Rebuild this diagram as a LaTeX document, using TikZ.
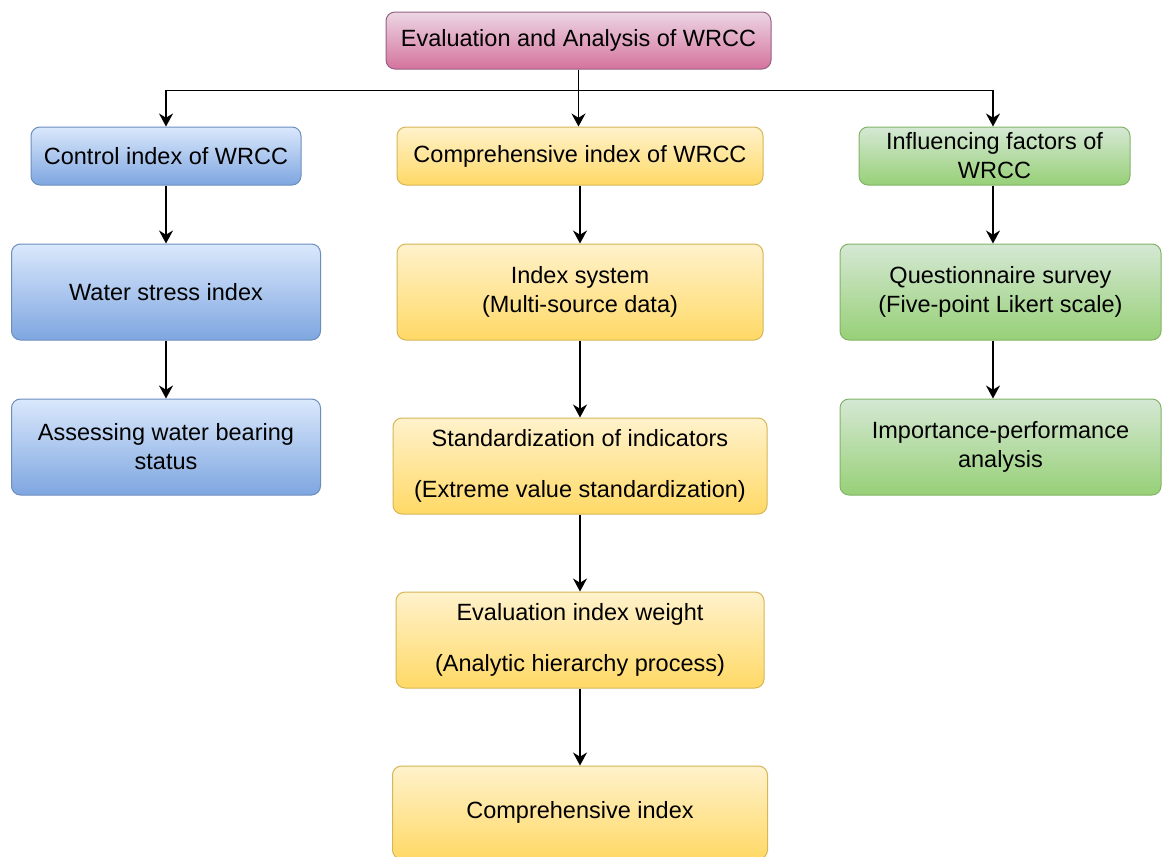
\documentclass[tikz,border=0pt]{standalone}
\usepackage{fontspec}
\setmainfont{Liberation Sans}
\definecolor{wpinktop}{RGB}{236,214,228}
\definecolor{wpinkbot}{RGB}{213,115,157}
\definecolor{wpinkline}{RGB}{150,97,133}
\definecolor{wbluetop}{RGB}{218,232,252}
\definecolor{wbluebot}{RGB}{126,166,224}
\definecolor{wblueline}{RGB}{108,142,191}
\definecolor{wyeltop}{RGB}{255,242,204}
\definecolor{wyelbot}{RGB}{255,217,102}
\definecolor{wyelline}{RGB}{214,182,86}
\definecolor{wgrntop}{RGB}{213,232,212}
\definecolor{wgrnbot}{RGB}{151,208,119}
\definecolor{wgrnline}{RGB}{130,179,102}
\usetikzlibrary{arrows.meta,positioning}

\begin{document}
\begin{tikzpicture}[x=1pt, y=1pt,
  box/.style={draw, line width=1pt, rounded corners=9pt, align=center, inner sep=4pt, font=\fontsize{23.5}{29}\selectfont},
  pinkbox/.style={box, draw=wpinkline, top color=wpinktop, bottom color=wpinkbot},
  bluebox/.style={box, draw=wblueline, top color=wbluetop, bottom color=wbluebot},
  yelbox/.style={box, draw=wyelline, top color=wyeltop, bottom color=wyelbot},
  grnbox/.style={box, draw=wgrnline, top color=wgrntop, bottom color=wgrnbot},
  headbox/.style={minimum height=58pt},
  bigbox/.style={minimum height=96pt},
  flow/.style={-{Stealth[length=13pt, width=14pt]}, line width=1.6pt, black}]
  \fill[white] (0,0) rectangle (1163,-857);
  \useasboundingbox (0,0) rectangle (1163,-857);
  % top
  \node[pinkbox, minimum width=385pt, minimum height=57pt] (eval) at (578.5,-40.5) {Evaluation and Analysis of WRCC};
  % column heads
  \node[bluebox, headbox, minimum width=270pt] (ctrl) at (166,-156) {Control index of WRCC};
  \node[yelbox, headbox, minimum width=366pt] (comp) at (580,-156) {Comprehensive index of WRCC};
  \node[grnbox, headbox, minimum width=271pt] (infl) at (994.5,-156) {Influencing factors of\\WRCC};
  % left column
  \node[bluebox, bigbox, minimum width=309pt, below=58pt of ctrl] (stress) {Water stress index};
  \node[bluebox, bigbox, minimum width=309pt, below=58pt of stress] (bearing) {Assessing water bearing\\status};
  % centre column
  \node[yelbox, bigbox, minimum width=366pt, below=58pt of comp] (isys) {Index system\\(Multi-source data)};
  \node[yelbox, bigbox, minimum width=374pt, below=77pt of isys] (stdz) {Standardization of indicators\\[22pt](Extreme value standardization)};
  \node[yelbox, bigbox, minimum width=368pt, below=77pt of stdz] (weight) {Evaluation index weight\\[22pt](Analytic hierarchy process)};
  \node[yelbox, minimum height=93pt, minimum width=375pt, below=77pt of weight] (cidx) {Comprehensive index};
  % right column
  \node[grnbox, bigbox, minimum width=321pt, below=58pt of infl, xshift=6pt] (quest) {Questionnaire survey\\(Five-point Likert scale)};
  \node[grnbox, bigbox, minimum width=321pt, below=58pt of quest] (ipa) {Importance-performance\\analysis};
  % connectors
  \coordinate (hub) at ([yshift=-21pt]eval.south);
  \draw[flow] (eval.south) -- (hub) -| (ctrl.north);
  \draw[flow] (hub) -| ([xshift=-1.5pt]infl.north);
  \draw[flow] (eval.south) -- (eval.south |- comp.north);
  \draw[flow] (ctrl) -- (ctrl |- stress.north);
  \draw[flow] (stress) -- (bearing);
  \draw[flow] (comp) -- (isys);
  \draw[flow] (isys) -- (stdz);
  \draw[flow] (stdz) -- (weight);
  \draw[flow] (weight) -- (cidx);
  \draw[flow] ([xshift=-1.5pt]infl.south) -- ([xshift=-1.5pt]infl.south |- quest.north);
  \draw[flow] ([xshift=-1.5pt]infl.south |- quest.south) -- ([xshift=-1.5pt]infl.south |- ipa.north);
\end{tikzpicture}
\end{document}
